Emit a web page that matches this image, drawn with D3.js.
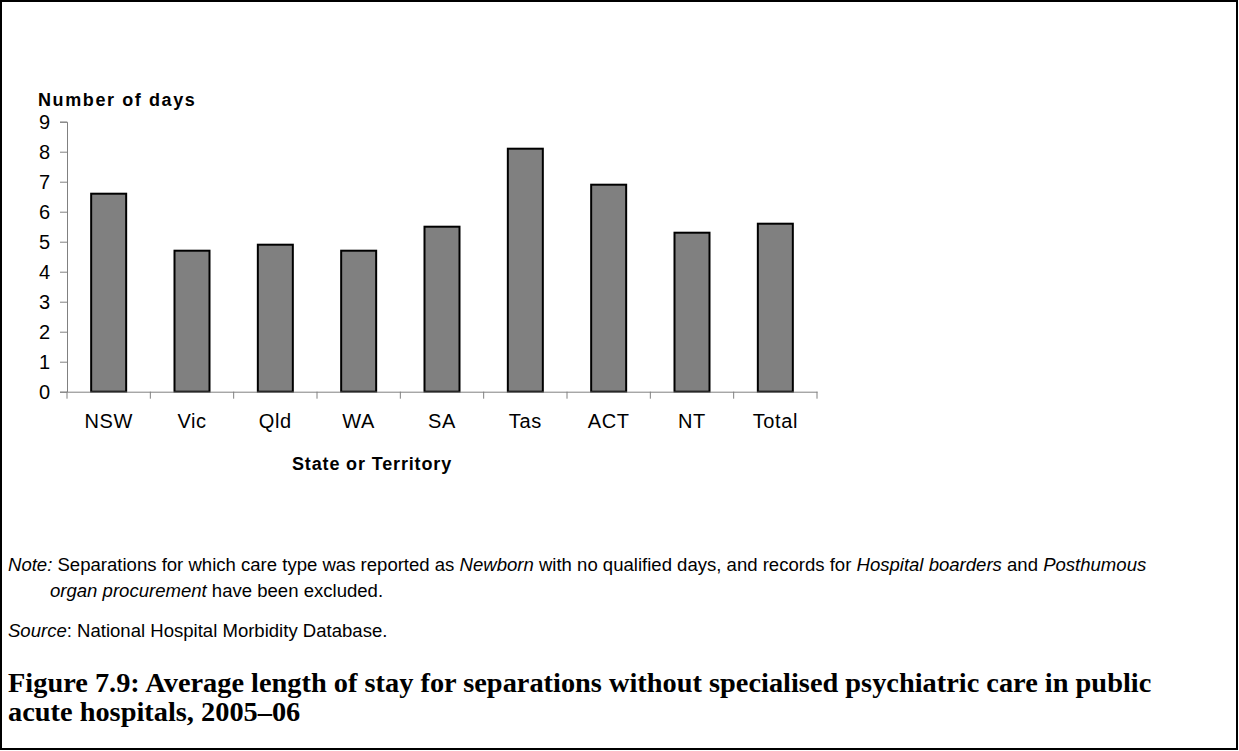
<!DOCTYPE html>
<html>
<head>
<meta charset="utf-8">
<script src="https://cdn.jsdelivr.net/npm/d3@7"></script>
<style>
  body { margin: 0; background: #fff; }
  svg { display: block; }
  .axis text { font-family: "Liberation Sans", Arial, sans-serif; fill: #000; }
</style>
</head>
<body>
<svg width="1239" height="751"></svg>
<script>
// data
var categories = ["NSW", "Vic", "Qld", "WA", "SA", "Tas", "ACT", "NT", "Total"];
var values = [6.6, 4.7, 4.9, 4.7, 5.5, 8.1, 6.9, 5.3, 5.6];
var yTicks = [0, 1, 2, 3, 4, 5, 6, 7, 8, 9];

var yTitle = "Number of days",
    xTitle = "State or Territory",
    figTitle = ["Figure 7.9: Average length of stay for separations without specialised psychiatric care in public",
                "acute hospitals, 2005\u201306"];

var svg = d3.select("svg"),
    W = +svg.attr("width"),
    H = +svg.attr("height");

var plot = { left: 67, right: 817, top: 121.7, bottom: 391.7 };

var x = d3.scaleBand()
    .domain(categories)
    .range([plot.left, plot.right])
    .paddingInner(0.58)
    .paddingOuter(0.29);

var y = d3.scaleLinear()
    .domain([0, 9])
    .range([plot.bottom, plot.top]);

// frame
svg.append("rect")
    .attr("x", 1).attr("y", 1)
    .attr("width", W - 3).attr("height", H - 3)
    .attr("fill", "#fff")
    .attr("stroke", "#000")
    .attr("stroke-width", 2);

// bars
svg.append("g").selectAll("rect")
    .data(values)
    .enter().append("rect")
    .attr("x", function (d, i) { return x(categories[i]); })
    .attr("y", function (d) { return y(d); })
    .attr("width", x.bandwidth())
    .attr("height", function (d) { return y(0) - y(d); })
    .attr("fill", "#808080")
    .attr("stroke", "#000")
    .attr("stroke-width", 2);

// y axis
var yAxis = svg.append("g")
    .attr("class", "axis axis--y")
    .attr("transform", "translate(" + plot.left + ",0)")
    .call(d3.axisLeft(y).tickValues(yTicks).tickSize(7).tickPadding(10).tickFormat(d3.format("d")));
yAxis.selectAll("text").style("font-size", "20px");

// x axis: labels under the bars, ticks between categories
var xAxis = svg.append("g")
    .attr("class", "axis axis--x")
    .attr("transform", "translate(0," + plot.bottom + ")")
    .call(d3.axisBottom(x).tickSize(0).tickPadding(22));
xAxis.selectAll("text").style("font-size", "20px").attr("letter-spacing", 0.6);
xAxis.selectAll(".tick line").remove();

var step = x.step();
xAxis.selectAll(".sep")
    .data(d3.range(categories.length + 1))
    .enter().append("line")
    .attr("class", "sep")
    .attr("x1", function (i) { return plot.left + i * step; })
    .attr("x2", function (i) { return plot.left + i * step; })
    .attr("y1", 0).attr("y2", 7);

svg.selectAll(".axis .domain, .axis .tick line, .axis .sep").attr("stroke", "#808080");

// axis titles
svg.append("text")
    .attr("x", 38).attr("y", 106)
    .attr("font-family", "Liberation Sans, Arial, sans-serif")
    .attr("font-weight", "bold")
    .attr("font-size", 18)
    .attr("letter-spacing", 1.6)
    .text(yTitle);

svg.append("text")
    .attr("x", (plot.left + plot.right) / 2 - 70).attr("y", 470)
    .attr("text-anchor", "middle")
    .attr("font-family", "Liberation Sans, Arial, sans-serif")
    .attr("font-weight", "bold")
    .attr("font-size", 18)
    .attr("letter-spacing", 0.85)
    .text(xTitle);

// notes
var noteFont = "Liberation Sans, Arial, sans-serif";
function richLine(parts, x0, y0) {
    var t = svg.append("text")
        .attr("class", "note")
        .attr("x", x0).attr("y", y0)
        .attr("font-family", noteFont)
        .attr("font-size", 14.5);
    parts.forEach(function (p) {
        t.append("tspan")
            .attr("font-style", p[1] ? "italic" : "normal")
            .text(p[0]);
    });
    return t;
}
var n1 = richLine([["Note:", 1], [" Separations for which care type was reported as ", 0], ["Newborn", 1],
          [" with no qualified days, and records for ", 0], ["Hospital boarders", 1], [" and ", 0], ["Posthumous", 1]],
         8, 571);
richLine([["organ procurement", 1], [" have been excluded.", 0]], 50, 597);
richLine([["Source", 1], [": National Hospital Morbidity Database.", 0]], 8, 637);
// size notes so the first line spans the reference width
var nw = n1.node().getComputedTextLength();
svg.selectAll(".note").attr("font-size", 14.5 * 1139 / nw);

// figure caption
var capSize = 22;
var cap = svg.append("g")
    .attr("font-family", "Liberation Serif, 'Times New Roman', serif")
    .attr("font-weight", "bold");
cap.selectAll("text")
    .data(figTitle)
    .enter().append("text")
    .attr("x", 8)
    .attr("y", function (d, i) { return 692 + i * 29; })
    .attr("font-size", capSize)
    .text(function (d) { return d; });
var w0 = cap.select("text").node().getComputedTextLength();
cap.selectAll("text").attr("font-size", capSize * 1144 / w0);
</script>
</body>
</html>
